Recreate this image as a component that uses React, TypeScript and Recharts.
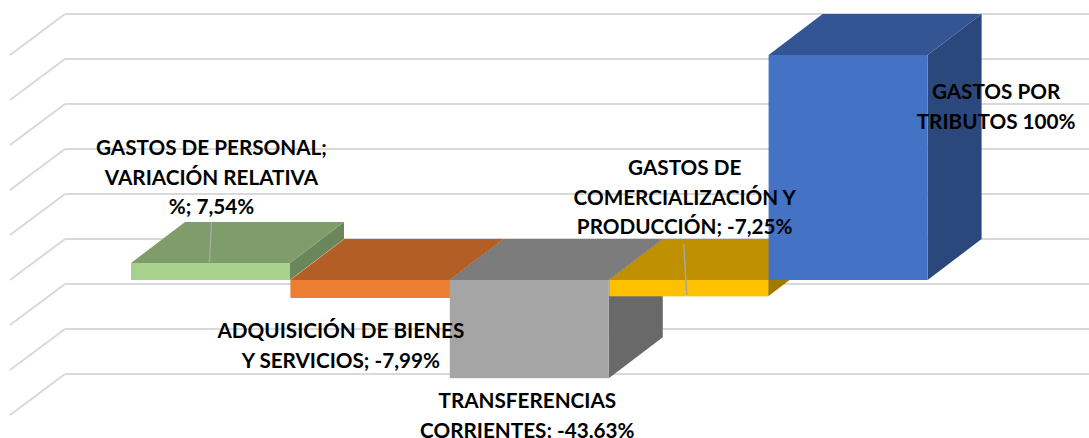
import { BarChart, Bar, XAxis, YAxis, CartesianGrid, LabelList } from 'recharts';

const categories = [
  'GASTOS DE PERSONAL',
  'ADQUISICIÓN DE BIENES Y SERVICIOS',
  'TRANSFERENCIAS CORRIENTES',
  'GASTOS DE COMERCIALIZACIÓN Y PRODUCCIÓN',
  'GASTOS POR TRIBUTOS',
];
const values = [7.54, -7.99, -43.63, -7.25, 100];
const valueTicks = [-60, -40, -20, 0, 20, 40, 60, 80, 100];
const labelLines = [
  ['GASTOS DE PERSONAL;', 'VARIACIÓN RELATIVA', '%; 7,54%'],
  ['ADQUISICIÓN DE BIENES', 'Y SERVICIOS; -7,99%'],
  ['TRANSFERENCIAS', 'CORRIENTES; -43,63%'],
  ['GASTOS DE', 'COMERCIALIZACIÓN Y', 'PRODUCCIÓN; -7,25%'],
  ['GASTOS POR', 'TRIBUTOS 100%'],
];

const frontColors = ['#A9D18E', '#ED7D31', '#A5A5A5', '#FFC000', '#4472C4'];
const topColors = ['#7F9D6B', '#B25E25', '#7C7C7C', '#BF9000', '#335593'];
const sideColors = ['#6C865B', '#975020', '#696969', '#A27A00', '#2B487D'];

// label placement relative to the bar centre / top edge
const labelDx = [1, -29, -2, -4, 148];
const labelDy = [-108, 58, 128, -105, 44];
const LINE_HEIGHT = 29.5;
const leaders: Record<number, [number, number, number, number]> = {
  0: [1, -41, -1, -1],
  3: [-5, -36, -2, 15],
};

// 3D depth of the Excel chart
const GRID_DX = 55;
const BAR_DX = 54;
const DY = -41;

const data = categories.map((name, i) => ({ name, value: values[i] }));

function Bar3D(props: any) {
  const { x, y, width, height, index } = props;
  const top = Math.min(y, y + height);
  const bottom = Math.max(y, y + height);
  const right = x + width;
  return (
    <g>
      <polygon
        points={`${right},${top} ${right + BAR_DX},${top + DY} ${right + BAR_DX},${bottom + DY} ${right},${bottom}`}
        fill={sideColors[index]}
      />
      <polygon
        points={`${x},${top} ${x + BAR_DX},${top + DY} ${right + BAR_DX},${top + DY} ${right},${top}`}
        fill={topColors[index]}
      />
      <rect x={x} y={top} width={width} height={bottom - top} fill={frontColors[index]} />
    </g>
  );
}

function BarLabel(props: any) {
  const { x, y, width, height, index } = props;
  const top = Math.min(y, y + height);
  const cx = x + width / 2;
  const leader = leaders[index];
  return (
    <g>
      {leader && (
        <line
          x1={cx + leader[0]}
          y1={top + leader[1]}
          x2={cx + leader[2]}
          y2={top + leader[3]}
          stroke="#A6A6A6"
          strokeWidth={1.5}
        />
      )}
      {labelLines[index].map((line, i) => (
        <text
          key={line}
          x={cx + labelDx[index]}
          y={top + labelDy[index] + i * LINE_HEIGHT}
          textAnchor="middle"
          fontFamily="Lato, sans-serif"
          fontWeight={700}
          fontSize={20.7}
          fill="#000000"
        >
          {line}
        </text>
      ))}
    </g>
  );
}

function GridLine(props: any) {
  const { x1, y1, x2 } = props;
  return (
    <g>
      <line x1={x1} y1={y1} x2={x1 + GRID_DX} y2={y1 + DY} stroke="#D9D9D9" strokeWidth={2} />
      <line x1={x1 + GRID_DX} y1={y1 + DY} x2={x2} y2={y1 + DY} stroke="#D9D9D9" strokeWidth={2} />
    </g>
  );
}

export default function App() {
  return (
    <div style={{ position: 'absolute', left: 0, top: 0, width: 1089, height: 438, background: '#fff', overflow: 'hidden' }}>
      <BarChart
        width={1089}
        height={438}
        data={data}
        barCategoryGap={0}
        margin={{ top: 55, right: 0, bottom: 23, left: 10 }}
        style={{ overflow: 'visible' }}
      >
        <CartesianGrid vertical={false} horizontal={(p: any) => <GridLine key={p.key ?? p.y1} {...p} />} />
        <XAxis dataKey="name" hide padding={{ left: 121, right: 161 }} />
        <YAxis hide domain={[-60, 100]} ticks={valueTicks} />
        <Bar dataKey="value" shape={<Bar3D />} isAnimationActive={false}>
          <LabelList dataKey="value" content={<BarLabel />} />
        </Bar>
      </BarChart>
    </div>
  );
}
